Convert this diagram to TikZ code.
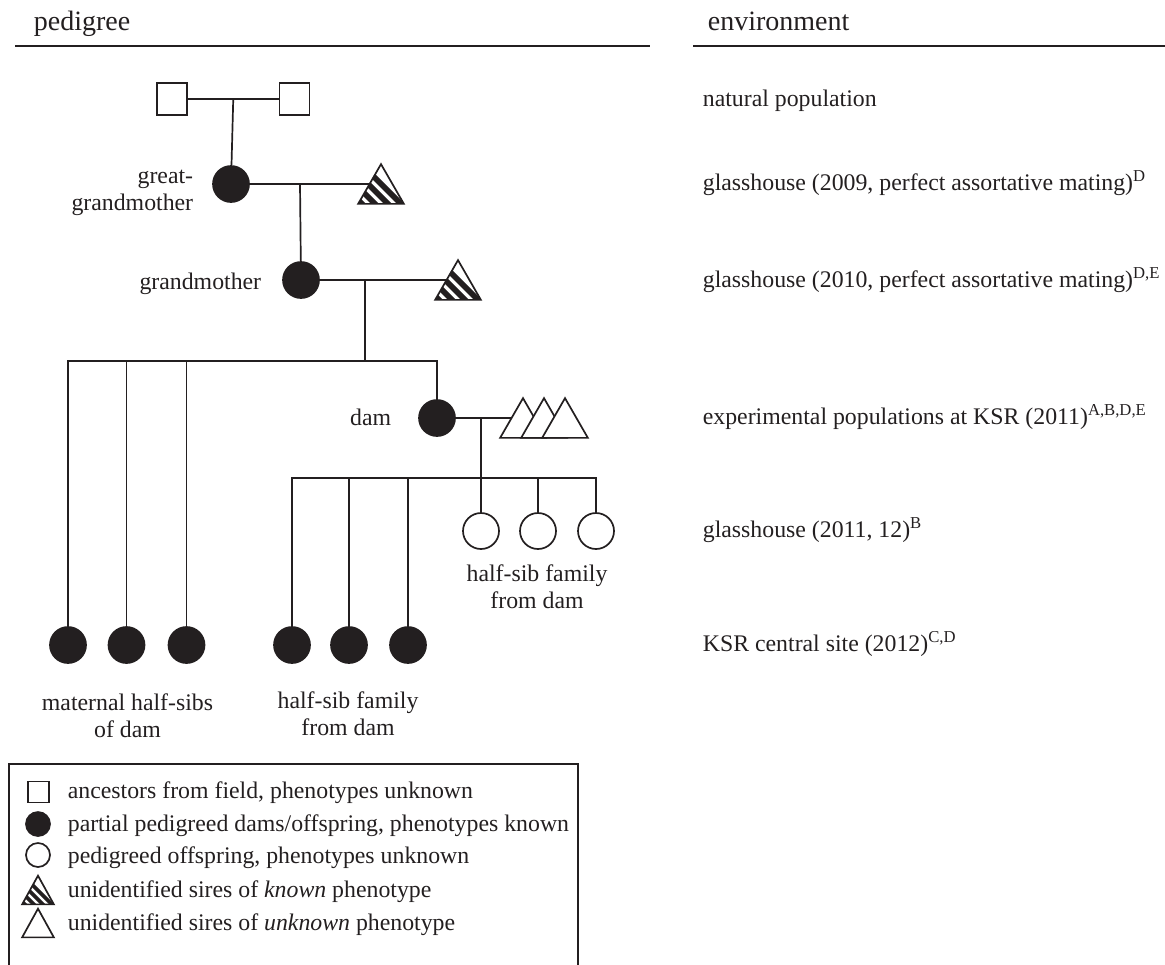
\documentclass[tikz,border=0pt]{standalone}
\usepackage{fontspec}
\setmainfont{Liberation Serif}
\usetikzlibrary{calc}
\definecolor{ink}{RGB}{35,31,32}
\newcommand\stripetri[3]{%
  \fill[white] (#1.south west) -- (#1.north) -- (#1.south east) -- cycle;
  \begin{scope}
    \clip (#1.south west) -- (#1.north) -- (#1.south east) -- cycle;
    \foreach \k in {0,...,3}{
      \draw[ink,line width=#3] ($(#1.south west)+({(\k+0.3)*#2},0)$) +(-90,-90) -- +(20,20);
    }
  \end{scope}
  \draw[tri] (#1.south west) -- (#1.north) -- (#1.south east) -- cycle;}
\newcommand\opentri[1]{%
  \draw[tri,fill=white] (#1.south west) -- (#1.north) -- (#1.south east) -- cycle;}
\begin{document}
\begin{tikzpicture}[x=0.5pt,y=-0.5pt,
  every node/.style={font=\fontsize{11.9}{13.5}\selectfont, text=ink},
  line width=0.85pt, draw=ink,
  sq/.style={draw=ink, line width=0.85pt, minimum width=15pt, minimum height=16pt, inner sep=0pt},
  fc/.style={circle, fill=ink, draw=ink, minimum size=18pt, inner sep=0pt},
  oc/.style={circle, draw=ink, line width=0.85pt, minimum size=18pt, inner sep=0pt},
  tribox/.style={inner sep=0pt, minimum width=22pt, minimum height=19pt},
  tri/.style={draw=ink, line width=0.85pt, line join=miter},
  lsq/.style={draw=ink, line width=0.85pt, minimum size=10.5pt, inner sep=0pt},
  lfc/.style={circle, fill=ink, draw=ink, minimum size=12pt, inner sep=0pt},
  loc/.style={circle, draw=ink, line width=0.85pt, minimum size=12pt, inner sep=0pt},
  ltribox/.style={inner sep=0pt, minimum width=15pt, minimum height=13.5pt},
  lbl/.style={inner sep=0pt},
  head/.style={inner sep=0pt, font=\fontsize{14}{16}\selectfont},
  rule/.style={draw=ink, line width=1pt}]
\useasboundingbox (0,0) rectangle (1165,964);
\clip (0,0) rectangle (1165,964);

% headers
\node[head, anchor=base west] (hped) at (33,30) {pedigree};
\node[head, anchor=base west] (henv) at (707,30) {environment};
\draw[rule] (15,46) -- (650,46);
\draw[rule] (693,46) -- (1165,46);

% environment column
\node[lbl, anchor=base west] (e1) at (702,106) {natural population};
\node[lbl, anchor=base west] (e2) at (702,190) {glasshouse (2009, perfect assortative mating)\textsuperscript{D}};
\node[lbl, anchor=base west] (e3) at (702,287) {glasshouse (2010, perfect assortative mating)\textsuperscript{D,E}};
\node[lbl, anchor=base west] (e4) at (702,424) {experimental populations at KSR (2011)\textsuperscript{A,B,D,E}};
\node[lbl, anchor=base west] (e5) at (702,537) {glasshouse (2011, 12)\textsuperscript{B}};
\node[lbl, anchor=base west] (e6) at (702,651) {KSR central site (2012)\textsuperscript{C,D}};

% ancestors
\node[sq] (sq1) at (172,99) {};
\node[sq] (sq2) at (294.5,99) {};
\draw (sq1) -- (sq2);
\coordinate (m1) at ($(sq1)!0.5!(sq2)$);

% great-grandmother
\node[fc] (ggm) at (231,184) {};
\draw (m1) -- (ggm);
\node[lbl, align=right, anchor=east, font=\fontsize{11.9}{13.5}\selectfont] (lggm) at (194,193) {great-\\grandmother};
\node[tribox] (t1) at (381,184) {};
\stripetri{t1}{13}{2.8pt}
\coordinate (t1w) at ($(t1.south west)!0.5!(t1.north)$);
\draw (ggm) -- (t1w);
\coordinate (m2) at (300,184);

% grandmother
\node[fc] (gm) at (301,280) {};
\draw (m2) -- (gm);
\node[lbl, anchor=base east] (lgm) at (262,289) {grandmother};
\node[tribox] (t2) at (458,280) {};
\stripetri{t2}{13}{2.8pt}
\coordinate (t2w) at ($(t2.south west)!0.5!(t2.north)$);
\draw (gm) -- (t2w);
\coordinate (m3) at (365,280);
\coordinate (b1) at (365,361);
\draw (m3) -- (b1);

% maternal half-sibs
\node[fc] (mh1) at (68,645) {};
\node[fc] (mh2) at (126.5,645) {};
\node[fc] (mh3) at (186.5,645) {};

% dam
\node[fc] (dam) at (437,418) {};
\node[lbl, anchor=base east] (ldam) at (392,425) {dam};
\draw (mh1) |- (b1);
\draw (dam) |- (b1);
\draw (mh2) -- (mh2 |- b1);
\draw (mh3) -- (mh3 |- b1);

\node[tribox] (d1) at (523,418) {};
\node[tribox] (d2) at (544,418) {};
\node[tribox] (d3) at (565,418) {};
\coordinate (d1w) at ($(d1.south west)!0.5!(d1.north)$);
\draw (dam) -- (d1w);
\opentri{d1}
\opentri{d2}
\opentri{d3}
\coordinate (m4) at (481,418);
\coordinate (b2) at (481,478);

% dam offspring
\node[fc] (hs1) at (292,645) {};
\node[fc] (hs2) at (349,645) {};
\node[fc] (hs3) at (408,645) {};
\node[oc] (os1) at (481,531) {};
\node[oc] (os2) at (538,531) {};
\node[oc] (os3) at (596,531) {};
\draw (m4) -- (os1);
\draw (hs1) |- (b2) -| (os3);
\draw (hs2) -- (hs2 |- b2);
\draw (hs3) -- (hs3 |- b2);
\draw (os2) -- (os2 |- b2);

% labels
\node[lbl, align=center, anchor=center] (lmh) at (127.5,716) {maternal half-sibs\\of dam};
\node[lbl, align=center, anchor=center] (lhs) at (348,714) {half-sib family\\from dam};
\node[lbl, align=center, anchor=center] (los) at (537,587) {half-sib family\\from dam};

% legend
\draw[line width=0.85pt] (9,970) -- (9,764) -- (578,764) -- (578,970);
\node[lsq] (g1) at (38.5,792) {};
\node[lfc] (g2) at (38,824) {};
\node[loc] (g3) at (38,855) {};
\node[ltribox] (g4) at (38,890) {};
\stripetri{g4}{9}{1.9pt}
\node[ltribox] (g5) at (38,923) {};
\opentri{g5}
\node[lbl, anchor=base west] (k1) at (67,798) {ancestors from field, phenotypes unknown};
\node[lbl, anchor=base west] (k2) at (67,831) {partial pedigreed dams/offspring, phenotypes known};
\node[lbl, anchor=base west] (k3) at (67,863) {pedigreed offspring, phenotypes unknown};
\node[lbl, anchor=base west] (k4) at (67,897) {unidentified sires of \textit{known} phenotype};
\node[lbl, anchor=base west] (k5) at (67,930) {unidentified sires of \textit{unknown} phenotype};
\end{tikzpicture}
\end{document}
